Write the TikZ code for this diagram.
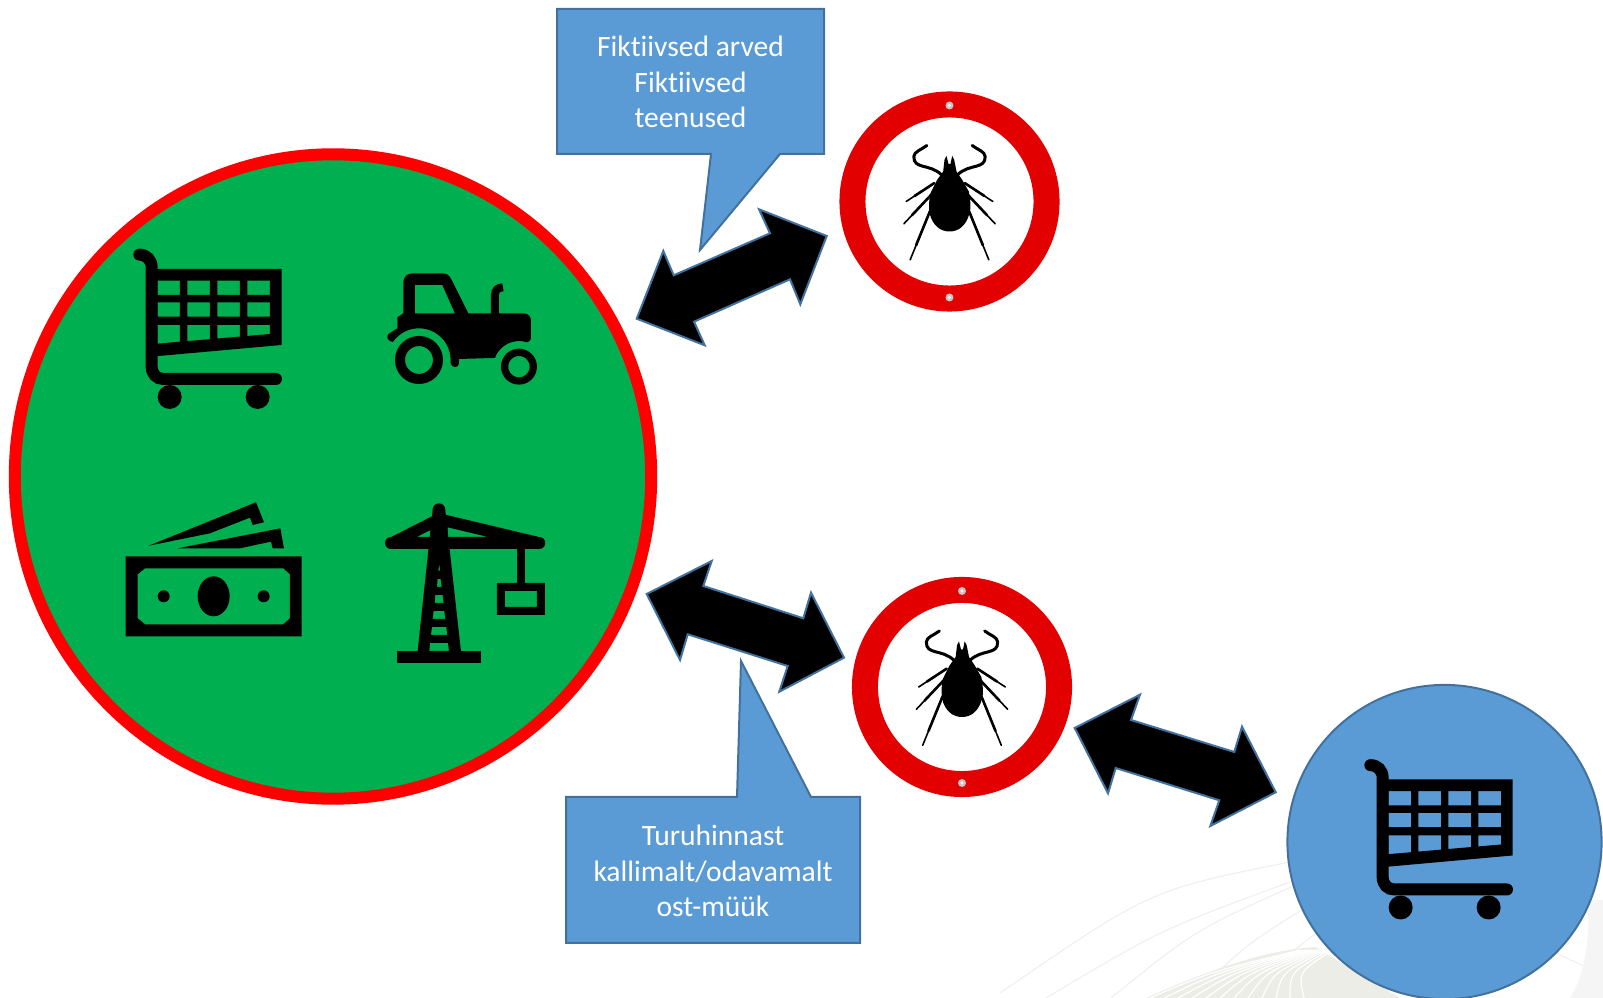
\documentclass[tikz,border=0pt]{standalone}
\usepackage{fontspec}
\setmainfont[Ligatures={NoCommon,NoRequired,NoContextual}]{Carlito}
\usetikzlibrary{shapes.geometric}
\definecolor{offblue}{HTML}{5B9BD5}
\definecolor{offedge}{HTML}{41719C}
\definecolor{offgreen}{HTML}{00B050}
\definecolor{ringred}{HTML}{E20000}
\definecolor{bandgrey}{HTML}{ECEDE7}
\tikzset{
  bgline/.style={draw=black!6,line width=0.012cm},
  blockarrow/.style={fill=black,draw=offedge,line width=0.02cm,line join=miter},
  speechbox/.style={fill=offblue,draw=offedge,line width=0.02cm},
  speechtext/.style={text=white,align=center,font=\fontsize{8.4}{10.1}\selectfont,inner sep=0pt},
  tickring/.style={circle,draw=ringred,fill=white,line width=0.26cm,minimum size=1.94cm,inner sep=0pt},
  cartpic/.pic={
    \begin{scope}[scale=0.3333]
    \draw[line width=0.12cm,line cap=round] (118,104) .. controls (140,104) and (155,120) .. (155,142)
      -- (155,440) .. controls (155,462) and (170,477) .. (190,477) -- (528,477);
    \fill[even odd rule] (155,147) -- (545,147) -- (545,375) -- (155,410) -- cycle
      \foreach \c in {172,262,352,442} {
        (\c,182) rectangle (\c+68,225) (\c,247) rectangle (\c+68,290)
        (\c,315) -- (\c+68,315) -- (\c+68,{371-0.0858*(\c+68-172)}) -- (\c,{371-0.0858*(\c-172)}) -- cycle
      };
    \fill (209,531) circle (36) (473,531) circle (36);
    \end{scope}
  },
  tractorpic/.pic={
    \begin{scope}[scale=0.3333]
    \fill[even odd rule] (892,325) -- (892,292) -- (910,280) -- (910,188) .. controls (910,170) and (922,160) .. (938,160)
      -- (1025,160) .. controls (1040,160) and (1048,165) .. (1054,178) -- (1105,280) -- (1270,280)
      .. controls (1285,280) and (1293,290) .. (1293,302) -- (1293,352) .. controls (1293,362) and (1287,366) .. (1281,367)
      arc[start angle=-72,end angle=-160,radius=77] -- (1077,417) -- (1077,430)
      .. controls (1077,445) and (1055,445) .. (1052,430) -- (1052,420)
      arc[start angle=0,end angle=-145,radius=95] .. controls (872,366) and (856,358) .. (864,343) -- cycle
      (945,195) -- (1027,195) -- (1065,280) -- (945,280) -- cycle;
    \draw[line width=0.08cm] (1185,285) -- (1185,225) .. controls (1185,210) and (1195,202) .. (1209,202);
    \draw[line width=0.1cm] (957,420) circle (57);
    \draw[line width=0.073cm] (1257,440) circle (43);
    \end{scope}
  },
  moneypic/.pic={
    \begin{scope}[scale=0.3333]
    \fill[even odd rule] (77,229) rectangle (605,469)
      (135,265) -- (550,265) -- (570,283) -- (570,415) -- (550,433) -- (135,433) -- (113,415) -- (113,283) -- cycle;
    \fill (341,349) ellipse (48 and 60) (191,349) circle (18) (491,349) circle (18);
    \fill (147,197) -- (468,67) -- (492,127) -- (458,135) -- (450,113) -- (330,160) -- cycle;
    \fill (233,205) -- (541,145) -- (552,205) -- (518,205) -- (513,185) -- (420,205) -- cycle;
    \end{scope}
  },
  cranepic/.pic={
    \begin{scope}[scale=0.3333]
    \fill (1017,89) circle (19);
    \fill[even odd rule] (998,90) -- (1036,90) -- (1083,513) -- (953,513) -- cycle
      (1018,250) -- (1020,272) -- (1015,272) -- cycle
      (1013,297) -- (1022,297) -- (1025,321) -- (1011,321) -- cycle
      (1006,345) -- (1028,345) -- (1031,369) -- (1004,369) -- cycle
      (1001,393) -- (1033,393) -- (1036,417) -- (998,417) -- cycle
      (996,441) -- (1039,441) -- (1042,465) -- (993,465) -- cycle
      (990,489) -- (1044,489) -- (1047,513) -- (988,513) -- cycle;
    \fill (891,513) rectangle (1143,549);
    \fill[even odd rule] (862,177) -- (998,108) -- (1036,104) -- (1325,173) -- (1325,190) -- (862,190) -- cycle
      (950,171) -- (992,150) -- (992,171) -- cycle
      (1043,142) -- (1165,171) -- (1043,171) -- cycle;
    \draw[line width=0.12cm,line cap=round] (873,189) -- (1318,189);
    \fill (1251,207) rectangle (1275,310);
    \fill[even odd rule] (1191,309) rectangle (1335,405) (1215,333) rectangle (1311,381);
    \end{scope}
  },
  tickpic/.pic={
    \begin{scope}[scale=0.3333]
    \fill (-9,-137) -- (-3,-113) -- (3,-113) -- (8,-137) -- (14,-125) -- (21,-90) -- (38,-65) -- (58,-30)
      .. controls (63,0) and (65,20) .. (60,35) .. controls (50,75) and (25,90) .. (0,90)
      .. controls (-25,90) and (-50,75) .. (-60,35) .. controls (-63,20) and (-62,0) .. (-57,-25)
      -- (-37,-65) -- (-19,-90) -- (-15,-125) -- cycle;
    \foreach \s in {1,-1} {
      \begin{scope}[xscale=\s,line cap=round]
      \draw[line width=0.03cm] (24,-80) .. controls (60,-115) and (108,-95) .. (107,-135)
        .. controls (106,-150) and (85,-155) .. (68,-168);
      \foreach \ax/\ay/\bx/\by in {46/-55/130/0,55/-20/137/67,59/30/118/175} {
        \draw[line width=0.016cm] (\ax,\ay) -- (\bx,\by);
        \draw[line width=0.026cm] (\ax,\ay) -- ($(\ax,\ay)!0.7!(\bx,\by)$);
      }
      \end{scope}
    }
    \end{scope}
  }
}
\usetikzlibrary{calc}
\begin{document}
\begin{tikzpicture}[x=0.01cm,y=-0.01cm]
\useasboundingbox (0,0) rectangle (1603,998);
% faint paper background
\foreach \sx/\sy/\mx/\my/\ex/\ey in {1000/993/1150/890/1290/862,1046/998/1160/930/1290/882,1111/998/1195/930/1300/883,1192/998/1245/945/1310/905,1240/998/1275/965/1320/930,1500/930/1550/950/1603/975,1530/880/1570/900/1603/925} {
  \draw[bgline] (\sx,\sy) .. controls (\mx,\my) .. (\ex,\ey);
}
\fill[bandgrey] (1146,998) .. controls (1220,965) and (1270,950) .. (1315,947) -- (1400,998) -- cycle;
\foreach \i in {0,1,...,11} {
  \draw[white,line width=0.012cm] (1150+\i*14,998) .. controls (1210+\i*8,972) .. (1300+\i*3,950);
}
\fill[black!4] (1588,900) .. controls (1590,940) and (1585,975) .. (1570,998) -- (1603,998) -- (1603,900) -- cycle;
% main circle
\node[ellipse,draw=red,fill=offgreen,line width=0.12cm,minimum width=6.36cm,minimum height=6.44cm,inner sep=0pt] (group) at (333,476.5) {};
\pic at (100,220) {cartpic};
\pic at (100,220) {tractorpic};
\pic at (100,480) {moneypic};
\pic at (100,480) {cranepic};
% speech boxes
\draw[speechbox] (557,9) -- (824,9) -- (824,154) -- (780,154) -- (700,250) -- (711,154) -- (557,154) -- cycle;
\node[speechtext] (arved) at (690.5,82) {Fiktiivsed arved\\Fiktiivsed\\teenused};
\draw[speechbox] (566,797) -- (737,797) -- (741,661) -- (811,797) -- (860,797) -- (860,943) -- (566,943) -- cycle;
\node[speechtext] (hind) at (713,871) {Turuhinnast\\kallimalt/odavamalt\\ost-müük};
% ticks
\node[tickring] (tickA) at (949.5,201.5) {};
\node[tickring] (tickB) at (962,687) {};
\foreach \t/\cx/\cy in {A/949.5/201.5,B/962/687} {
  \fill[gray!45] (\cx,\cy-96) circle (4) (\cx,\cy+96) circle (4);
  \fill[gray!10] (\cx,\cy-96) circle (1.6) (\cx,\cy+96) circle (1.6);
  \pic at (\cx,\cy) {tickpic};
}
% buyer
\node[circle,draw=offedge,fill=offblue,line width=0.02cm,minimum size=3.14cm,inner sep=0pt] (buyer) at (1444.5,842) {};
\pic at (1331,730.5) {cartpic};
% double arrows
\draw[blockarrow] (636.7,318.7) -- (663.3,251) -- (673.7,275.3) -- (770,233.3) -- (759,209.3) -- (826.7,236) -- (800.3,304.3) -- (790,279.3) -- (694,321.7) -- (704.7,345.3) -- cycle;
\draw[blockarrow] (646.7,594) -- (711.7,561) -- (703.3,586) -- (803.3,618.3) -- (811,592.7) -- (844,657.7) -- (779.3,691.7) -- (787.7,666) -- (687.7,634.3) -- (680,660) -- cycle;
\draw[blockarrow] (1074.7,728) -- (1140,694.7) -- (1131,720) -- (1234.3,752) -- (1242,726.7) -- (1275.7,792.3) -- (1210.3,826) -- (1219.3,800.3) -- (1115.7,768) -- (1108,793.3) -- cycle;
\end{tikzpicture}
\end{document}
